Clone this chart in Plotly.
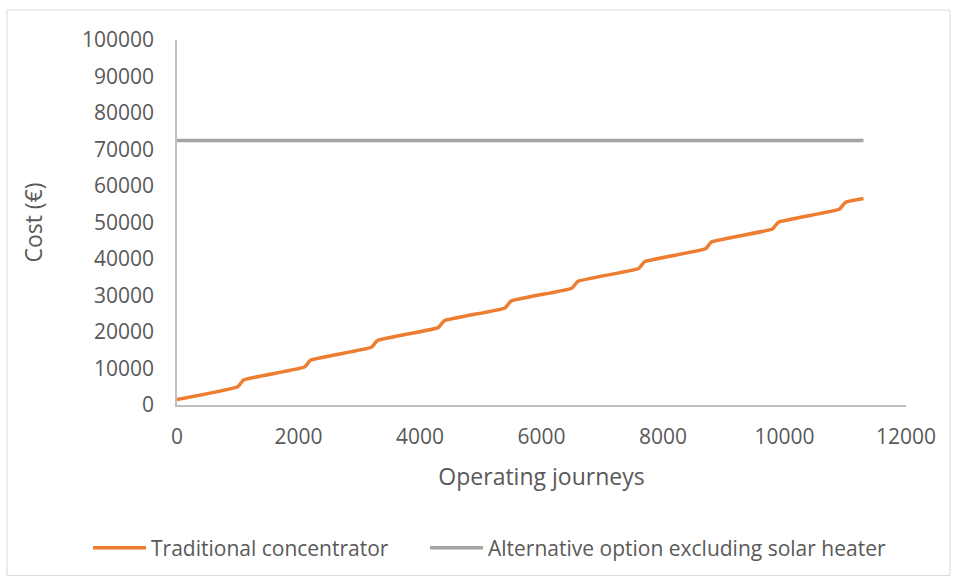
import plotly.graph_objects as go

# Data
journeys = [0, 1000, 1100, 2100, 2200, 3200, 3300, 4300, 4400, 5400, 5500,
            6500, 6600, 7600, 7700, 8700, 8800, 9800, 9900, 10900, 11000, 11300]
traditional_cost = [1500, 5000, 6900, 10400, 12300, 15800, 17700, 21200, 23100,
                    26600, 28500, 32000, 33900, 37400, 39300, 42800, 44700,
                    48200, 50100, 53600, 55500, 56550]
alt_journeys = [0, 11300]
alt_cost = [72500, 72500]

x_ticks = [0, 2000, 4000, 6000, 8000, 10000, 12000]
y_ticks = [0, 10000, 20000, 30000, 40000, 50000, 60000, 70000, 80000, 90000, 100000]

FONT = "Open Sans"
TXT = "#595959"

fig = go.Figure()
fig.add_trace(go.Scatter(
    x=journeys, y=traditional_cost, mode="lines",
    name="Traditional concentrator",
    line=dict(color="#ED7D31", width=3.5, shape="spline", smoothing=0.35),
    legend="legend",
))
fig.add_trace(go.Scatter(
    x=alt_journeys, y=alt_cost, mode="lines",
    name="Alternative option excluding solar heater",
    line=dict(color="#A5A5A5", width=3.5),
    legend="legend2",
))

L, R, T, B = 177, 50, 40, 173
W, H = 956, 579
pw, ph = W - L - R, H - T - B

def px_x(px):
    return (px - L) / pw

def px_y(py):
    return (H - B - py) / ph

leg_common = dict(orientation="h", y=px_y(548), xanchor="left", yanchor="middle",
                  font=dict(family=FONT, size=21, color=TXT), itemwidth=53,
                  bgcolor="rgba(0,0,0,0)")

fig.update_layout(
    width=W, height=H,
    margin=dict(l=L, r=R, t=T, b=B),
    paper_bgcolor="white", plot_bgcolor="white",
    font=dict(family=FONT, color=TXT, size=21),
    showlegend=True,
    legend=dict(x=px_x(88), **leg_common),
    legend2=dict(x=px_x(425), **leg_common),
    xaxis=dict(range=[0, 12000], tickvals=x_ticks,
               ticktext=[str(v) for v in x_ticks],
               showgrid=False, zeroline=False,
               showline=True, linecolor="#BFBFBF", linewidth=1.5,
               ticks="", ticklabelstandoff=12,
               tickfont=dict(family=FONT, size=21, color=TXT),
               title=dict(text="Operating journeys", standoff=20,
                          font=dict(family=FONT, size=23, color=TXT))),
    yaxis=dict(range=[0, 100000], tickvals=y_ticks,
               ticktext=[str(v) for v in y_ticks],
               showgrid=False, zeroline=False,
               showline=True, linecolor="#BFBFBF", linewidth=1.5,
               ticks="", ticklabelstandoff=17,
               tickfont=dict(family=FONT, size=21, color=TXT),
               title=dict(text="Cost (€)", standoff=33,
                          font=dict(family=FONT, size=23, color=TXT))),
    shapes=[dict(type="rect", xref="paper", yref="paper",
                 x0=px_x(7), x1=px_x(950), y0=px_y(577), y1=px_y(10),
                 line=dict(color="#D9D9D9", width=1), fillcolor="rgba(0,0,0,0)",
                 layer="below")],
)

fig.write_html("out.html")
